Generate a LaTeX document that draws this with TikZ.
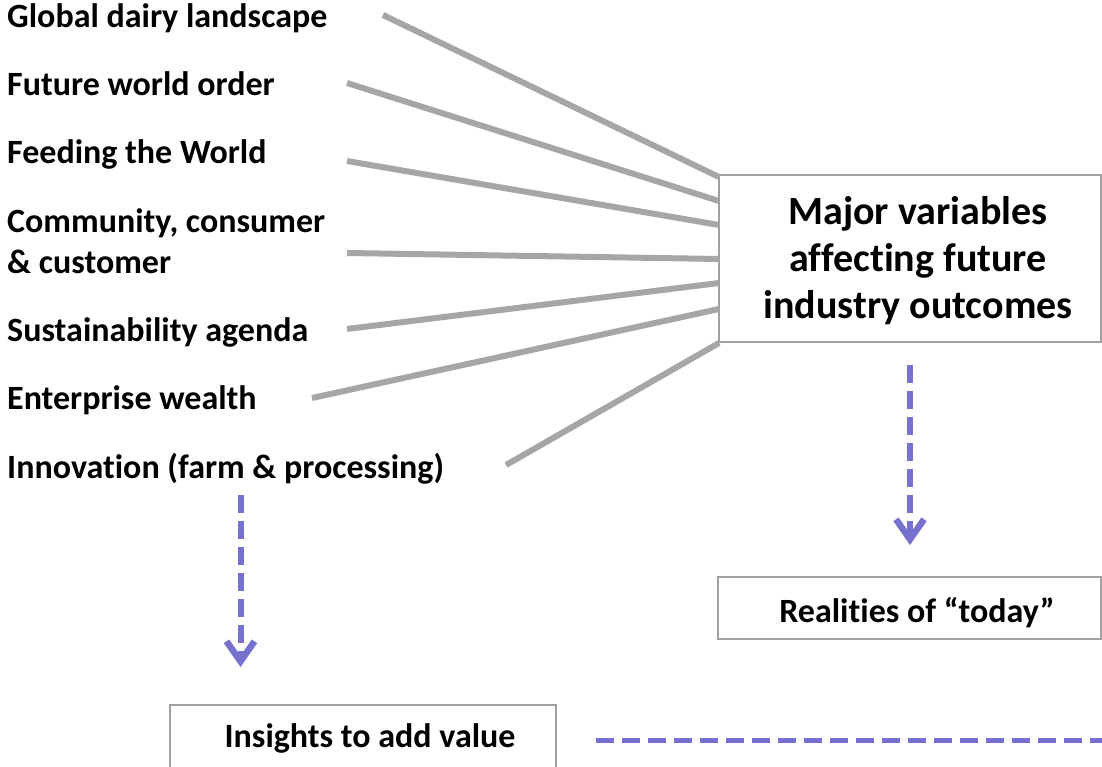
\documentclass[tikz,border=0pt]{standalone}
\usepackage{fontspec}
\setmainfont{Carlito}[Ligatures={NoCommon}]
\usetikzlibrary{arrows.meta}
\definecolor{linegray}{RGB}{166,166,166}
\definecolor{boxgray}{RGB}{160,160,160}
\definecolor{arrowpurple}{RGB}{118,113,206}
\begin{document}
\begin{tikzpicture}[x=1pt,y=-1pt,
  lbl/.style={anchor=base west, inner sep=0pt, font=\fontsize{34}{41}\selectfont\bfseries, align=left},
  boxtext/.style={anchor=base, inner sep=0pt, font=\fontsize{34}{41}\selectfont\bfseries},
  maintext/.style={anchor=base, inner sep=0pt, font=\fontsize{40}{47}\selectfont\bfseries, align=center},
  spoke/.style={draw=linegray, line width=6pt},
  boxframe/.style={draw=boxgray, line width=2pt, rectangle, inner sep=0pt, fill=white},
  dasharrow/.style={draw=arrowpurple, line width=6pt, dash pattern=on 18pt off 8pt, -{Straight Barb[length=20pt,width=28pt,line width=6.5pt]}},
  dashline/.style={draw=arrowpurple, line width=5pt, dash pattern=on 18pt off 8pt}]
\useasboundingbox (0,0) rectangle (1102,767);
\clip (0,0) rectangle (1102,767);

% labels
\node[lbl] (l1) at (7,28) {Global dairy landscape};
\node[lbl] (l2) at (7,96) {Future world order};
\node[lbl] (l3) at (7,164) {Feeding the World};
\node[lbl] (l4) at (7,273) {Community, consumer\\\& customer};
\node[lbl] (l5) at (7,341) {Sustainability agenda};
\node[lbl] (l6) at (7,409) {Enterprise wealth};
\node[lbl] (l7) at (7,478) {Innovation (farm \& processing)};

% boxes
\node[boxframe, minimum width=382pt, minimum height=167pt] (main) at (910,258.5) {};
\node[maintext] (maint) at (918,318) {Major variables\\affecting future\\industry outcomes};
\node[boxframe, minimum width=383pt, minimum height=62pt] (real) at (909.5,608) {};
\node[boxtext] (realt) at (917,622) {Realities of “today”};
\node[boxframe, minimum width=386pt, minimum height=94pt] (ins) at (363,752) {};
\node[boxtext] (inst) at (370,747) {Insights to add value};

% spoke coordinates
\coordinate (s1) at (383,15);  \coordinate (e1) at (719,177);
\coordinate (s2) at (347,83);  \coordinate (e2) at (719,201);
\coordinate (s3) at (347,161); \coordinate (e3) at (719,225);
\coordinate (s4) at (347,253); \coordinate (e4) at (719,259);
\coordinate (s5) at (347,329); \coordinate (e5) at (719,283);
\coordinate (s6) at (312,398); \coordinate (e6) at (719,309);
\coordinate (s7) at (506,465); \coordinate (e7) at (719,343);
\foreach \i in {1,...,7} { \draw[spoke] (s\i) -- (e\i); }

% dashed arrows
\coordinate (a1s) at (910,365); \coordinate (a1e) at (910,545);
\coordinate (a2s) at (240.5,495); \coordinate (a2e) at (240.5,667);
\draw[dasharrow] (a1s) -- (a1e);
\draw[dasharrow] (a2s) -- (a2e);
\coordinate (h1) at (596,740); \coordinate (h2) at (1110,740);
\draw[dashline] (h1) -- (h2);
\end{tikzpicture}
\end{document}
